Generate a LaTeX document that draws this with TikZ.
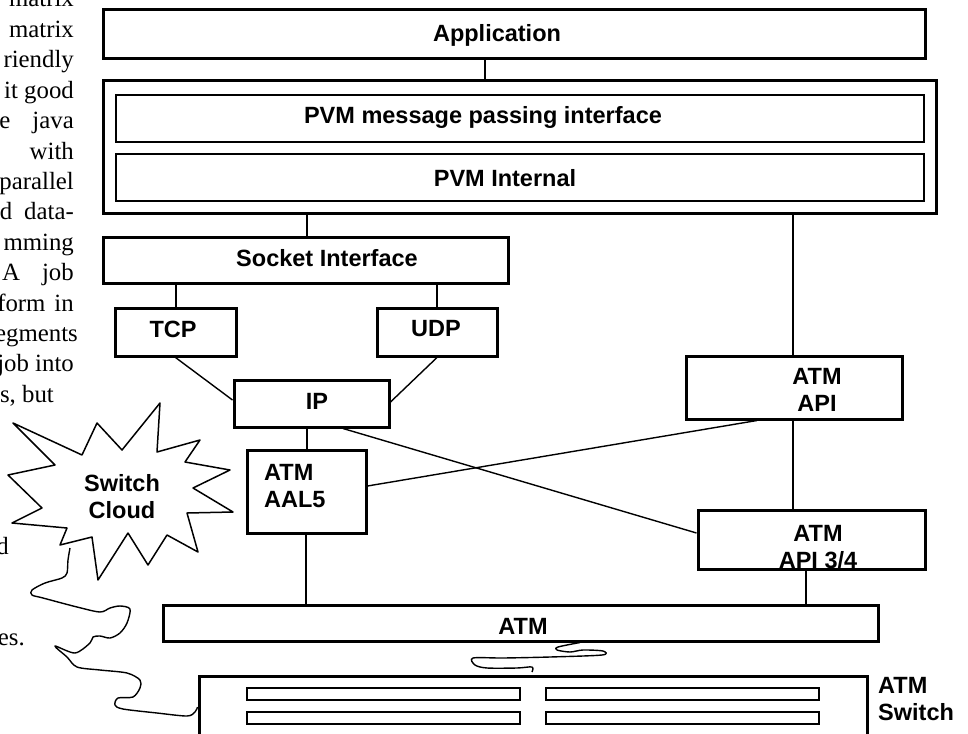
\documentclass[tikz,border=0pt]{standalone}
\usepackage{fontspec}
\setmainfont{Liberation Serif}
\setsansfont{Liberation Sans}
\usepackage{tikz}
\definecolor{inkColor}{HTML}{000000}

\begin{document}
\begin{tikzpicture}[
    x=1pt, y=-1pt,
    box/.style={rectangle, draw=inkColor, line width=3pt, inner sep=0pt},
    subBox/.style={box, line width=1.9pt},
    slotBox/.style={box, line width=1.7pt, minimum width=273, minimum height=12},
    link/.style={draw=inkColor, line width=1.4pt},
    wire/.style={draw=inkColor, line width=1.4pt, line join=round},
    labelStyle/.style={font=\sffamily\bfseries\fontsize{23.5}{27}\selectfont, inner sep=0pt, align=center},
    pageText/.style={font=\rmfamily\fontsize{24.8}{30}\selectfont, inner sep=0pt, anchor=base east}
]
\clip (0,0) rectangle (968,733);

% text of the page behind the figure
\foreach \k/\xr/\txt in {1/74/matrix, 2/74/matrix, 3/74/riendly, 4/74/it good,
    5/74/e\hspace{22pt}java, 6/74/with, 7/74/parallel, 8/74/d\hspace{12pt}data-,
    9/74/mming, 10/74/A\hspace{22pt}job, 11/74/form\hspace{9pt}in, 12/78/egments,
    13/74/job into, 14/54/{s, but}, 19/9/d, 22/25/es.}
    \node[pageText] (page\k) at (\xr,{7+30.4*(\k-1)}) {\txt};

% layers
\node[box, minimum width=822, minimum height=49] (app) at (514,34.5) {};
\node[box, minimum width=833, minimum height=132] (pvm) at (519.5,147) {};
\node[subBox, minimum width=808, minimum height=47] (pvmMsg) at (520,118.5) {};
\node[subBox, minimum width=808, minimum height=47] (pvmInt) at (520,177.5) {};
\node[box, minimum width=405, minimum height=46] (sock) at (305.5,260) {};
\node[box, minimum width=121, minimum height=48] (tcp) at (175.5,332) {};
\node[box, minimum width=120, minimum height=48] (udp) at (437,332) {};
\node[box, minimum width=155, minimum height=47] (ip) at (311.5,403.5) {};
\node[box, minimum width=119, minimum height=83] (aal5) at (306.5,491.5) {};
\node[box, minimum width=216, minimum height=63] (api) at (794,387.5) {};
\node[box, minimum width=227, minimum height=59] (api34) at (811.5,539.5) {};
\node[box, minimum width=715, minimum height=36] (atm) at (520.5,623) {};
\node[box, minimum width=668, minimum height=84] (sw) at (533,718) {};
\foreach \col/\cx in {1/383.5, 2/682.5}
    \foreach \row/\cy in {1/694, 2/718}
        \node[slotBox] (slot\col\row) at (\cx,\cy) {};

% labels
\node[labelStyle] (appT) at (497,35) {Application};
\node[labelStyle] (pvmMsgT) at (483,117) {PVM message passing interface};
\node[labelStyle] (pvmIntT) at (505,178) {PVM Internal};
\node[labelStyle] (sockT) at (327,258) {Socket Interface};
\node[labelStyle] (tcpT) at (173,329) {TCP};
\node[labelStyle] (udpT) at (436,329) {UDP};
\node[labelStyle] (ipT) at (317,401) {IP};
\node[labelStyle, align=left, anchor=west] (aal5T) at (264,486) {ATM\\AAL5};
\node[labelStyle] (apiT) at (817,390) {ATM\\API};
\node[labelStyle] (api34T) at (818,547) {ATM\\API 3/4};
\node[labelStyle] (atmT) at (523,626) {ATM};
\node[labelStyle, align=left, anchor=west] (swT) at (878,699) {ATM\\Switch};

% switch cloud
\draw[wire, line width=1.5pt] (13,423) -- (82,455) -- (97,423) -- (122,450) -- (160,403)
    -- (157,452) -- (200,440) -- (185,462) -- (230,470) -- (193,488) -- (233,512)
    -- (187,513) -- (198,552) -- (167,535) -- (148,565) -- (128,533) -- (98,580)
    -- (92,537) -- (60,545) -- (67,528) -- (12,523) -- (42,508) -- (8,475)
    -- (55,465) -- cycle;
\node[labelStyle] (cloudT) at (122,497) {Switch\\Cloud};

% connections
\draw[link] (app.south -| 485,0) -- (pvm.north -| 485,0);
\draw[link] (pvm.south -| 307,0) -- (sock.north -| 307,0);
\draw[link] (pvm.south -| 793,0) -- (api.north -| 793,0);
\draw[link] (sock.south -| 176,0) -- (tcp.north -| 176,0);
\draw[link] (sock.south -| 437,0) -- (udp.north -| 437,0);
\draw[link] (tcp.south) -- (ip.west |- 0,400);
\draw[link] (udp.south) -- (ip.east |- 0,402);
\draw[link] (ip.south -| 307,0) -- (aal5.north -| 307,0);
\draw[link] (ip.south -| 343,0) -- (api34.west |- 0,533);
\draw[link] (aal5.east |- 0,486) -- (api.south -| 757,0);
\draw[link] (api.south -| 793,0) -- (api34.north -| 793,0);
\draw[link] (aal5.south -| 306,0) -- (atm.north -| 306,0);
\draw[link] (api34.south -| 806,0) -- (atm.north -| 806,0);

% cables
\coordinate (cloudTail) at (70,548);
\coordinate (swPort) at (sw.west |- 0,707);
\coordinate (atmTail) at (atm.south -| 580,0);
\coordinate (swTop) at (532,672);
\draw[wire] plot[smooth] coordinates {(cloudTail) (68,560) (67,573) (62,578) (45,583)
    (32,590) (32,595) (43,598) (77,607) (100,612) (110,608) (120,606) (130,609)
    (127,623) (120,633) (110,638) (100,636) (93,637) (90,643) (75,653) (55,646)
    (67,657) (77,667) (100,670) (127,673) (140,680) (140,688) (133,697) (118,698)
    (115,705) (123,709) (157,713) (187,716) (195,712) (swPort)};
\draw[wire] plot[smooth] coordinates {(atmTail) (558,647) (557,650) (570,652) (583,650)
    (603,651) (602,655) (550,657) (503,658) (473,658) (475,665) (487,668) (517,668)
    (532,667) (swTop)};

\end{tikzpicture}
\end{document}
